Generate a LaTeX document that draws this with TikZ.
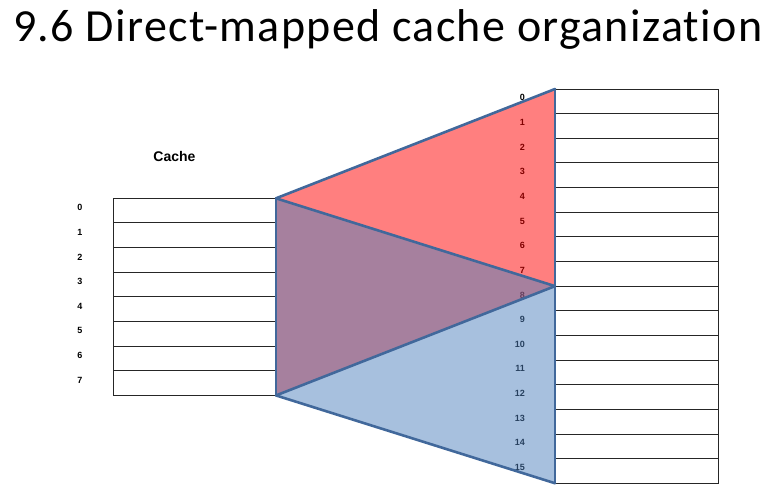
\documentclass[tikz,border=0pt]{standalone}
\usepackage{fontspec}
\setmainfont{Carlito}
\newfontfamily\titlef[Ligatures=NoCommon, LetterSpace=2.9]{Carlito}
\newfontfamily\arialf{Liberation Sans}
\definecolor{edgeblue}{RGB}{65,104,155}
\definecolor{fillblue}{RGB}{79,129,189}
\begin{document}
\begin{tikzpicture}[x=1pt,y=-1pt,
  row/.style={draw=black!85, line width=0.9pt, minimum width=163pt, minimum height=24.64pt, inner sep=0pt, outer sep=0pt, anchor=north west, fill=white},
  idx/.style={font=\arialf\bfseries\fontsize{9}{9}\selectfont, inner sep=0pt},
  edgeline/.style={draw=edgeblue, line width=2.6pt, line join=round, line cap=round}]
\useasboundingbox (0,0) rectangle (778,496);
\node[anchor=base west, inner sep=0pt, font=\titlef\fontsize{46}{46}\selectfont] (title) at (13,41.7) {9.6 Direct-mapped cache organization};
\node[font=\arialf\bfseries\fontsize{14}{14}\selectfont, inner sep=0pt] (cachelbl) at (174.5,156.5) {Cache};
\foreach \i in {0,...,7} {
  \node[row] (c\i) at (113, {198.3+\i*24.64}) {};
  \node[idx] (cl\i) at (80, {207.6+\i*24.64}) {\i};
}
\foreach \i in {0,...,15} {
  \node[row] (m\i) at (555, {89+\i*24.64}) {};
  \node[idx, anchor=east] (ml\i) at (525, {97.8+\i*24.64}) {\i};
}
\coordinate (A) at (c0.north east);
\coordinate (B) at (c7.south east);
\coordinate (P) at (m0.north west);
\coordinate (Q) at (m8.north west);
\coordinate (R) at (m15.south west);
\fill[red, fill opacity=0.5] (A) -- (P) -- (Q) -- (B) -- cycle;
\fill[fillblue, fill opacity=0.5] (A) -- (Q) -- (R) -- (B) -- cycle;
\draw[edgeline] (A) -- (P);
\draw[edgeline] (A) -- (Q);
\draw[edgeline] (B) -- (Q);
\draw[edgeline] (B) -- (R);
\draw[edgeline] (A) -- (B);
\draw[edgeline] (P) -- (R);
\end{tikzpicture}
\end{document}
